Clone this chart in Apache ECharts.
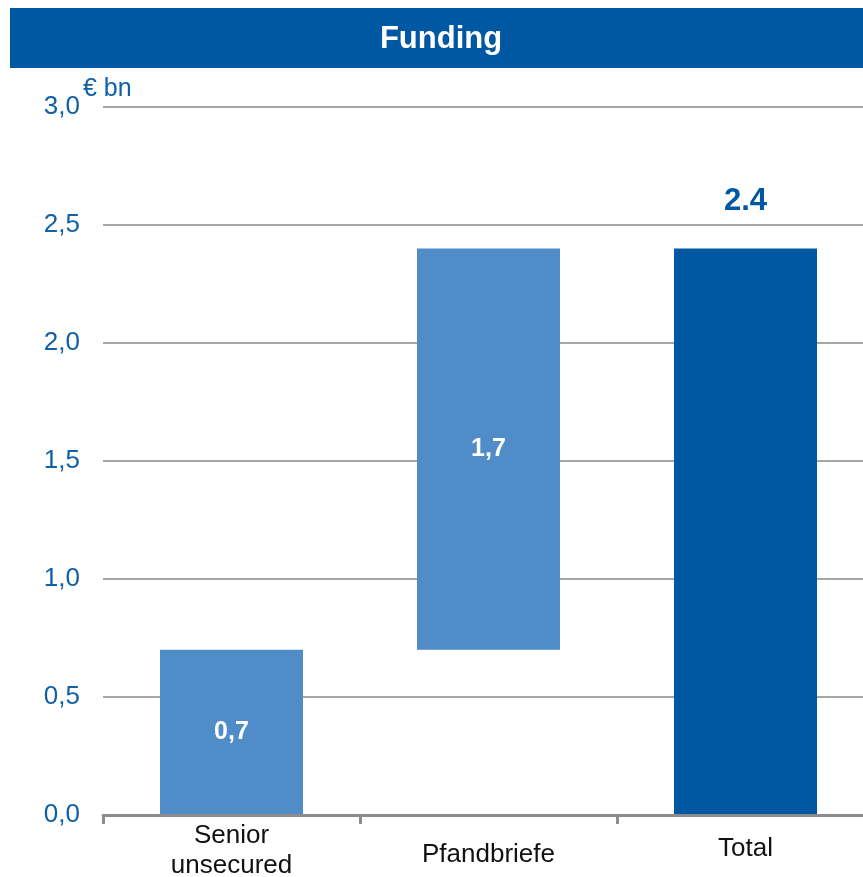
<!DOCTYPE html>
<html>
<head>
<meta charset="utf-8">
<script src="https://cdn.jsdelivr.net/npm/echarts@6/dist/echarts.min.js"></script>
<style>
html,body{margin:0;padding:0;background:#fff;overflow:hidden;}
#chart{width:880px;height:877px;}
</style>
</head>
<body>
<div id="chart"></div>
<script>
// ---- data ----
var categories = ['Senior\nunsecured', 'Pfandbriefe', 'Total'];
var values = [0.7, 1.7, 2.4];
var bases = [0, 0.7, 0];
var valueLabels = ['0,7', '1,7', '2.4'];
var yTicks = [0, 0.5, 1.0, 1.5, 2.0, 2.5, 3.0];
var titleText = 'Funding';
var unitText = '€ bn';

// ---- styles ----
var LIGHT = '#4f8cc8';
var DARK = '#0058a2';
var FONT = '"Liberation Sans", Arial, sans-serif';
var barColors = [LIGHT, LIGHT, DARK];
var labelPad = [[0,0,0,0],[38,0,0,0],[26,0,0,0]];

var chart = echarts.init(document.getElementById('chart'), null, {renderer: 'canvas'});

var valueData = values.map(function (v, i) {
  var isTotal = i === values.length - 1;
  return {
    value: v,
    itemStyle: {color: barColors[i]},
    label: isTotal ? {
      show: true, position: 'top', distance: 32,
      color: DARK, fontSize: 31, fontWeight: 'bold', fontFamily: FONT,
      formatter: valueLabels[i]
    } : {
      show: true, position: 'inside',
      color: '#ffffff', fontSize: 25, fontWeight: 'bold', fontFamily: FONT,
      formatter: valueLabels[i]
    }
  };
});

var option = {
  animation: false,
  backgroundColor: '#ffffff',
  grid: {left: 103, top: 107, width: 771, height: 708, containLabel: false, outerBoundsMode: 'none'},
  graphic: [
    {type: 'rect', shape: {x: 10, y: 8, width: 870, height: 60}, style: {fill: DARK}, z: 0},
    {type: 'text', x: 441, y: 39, style: {text: titleText, fill: '#ffffff', font: 'bold 31px ' + FONT, textAlign: 'center', textVerticalAlign: 'middle'}, z: 1},
    {type: 'text', x: 83, y: 89, style: {text: unitText, fill: '#1060a8', font: '25px ' + FONT, textAlign: 'left', textVerticalAlign: 'middle'}, z: 1}
  ],
  xAxis: {
    type: 'category',
    data: categories,
    axisLine: {show: true, lineStyle: {color: '#8c8c8c', width: 3}},
    axisTick: {show: true, length: 9, lineStyle: {color: '#8c8c8c', width: 3}},
    axisLabel: {
      margin: 6,
      interval: 0,
      formatter: function (val, idx) {
        var k = 'c' + idx;
        return val.split('\n').map(function (s) { return '{' + k + '|' + s + '}'; }).join('\n');
      },
      rich: {
        c0: {fontSize: 26, fontFamily: FONT, color: '#111111', lineHeight: 30, padding: labelPad[0]},
        c1: {fontSize: 26, fontFamily: FONT, color: '#111111', lineHeight: 30, padding: labelPad[1]},
        c2: {fontSize: 26, fontFamily: FONT, color: '#111111', lineHeight: 30, padding: labelPad[2]}
      }
    },
    z: 5
  },
  yAxis: {
    type: 'value',
    min: yTicks[0],
    max: yTicks[yTicks.length - 1],
    interval: 0.5,
    axisLine: {show: false},
    axisTick: {show: false},
    splitLine: {show: true, lineStyle: {color: '#a6a6a6', width: 2}},
    axisLabel: {
      margin: 23,
      color: '#1060a8',
      fontSize: 26,
      fontFamily: FONT,
      formatter: function (v) { return v.toFixed(1).replace('.', ','); }
    }
  },
  series: [
    {
      name: 'base', type: 'bar', stack: 'w', barWidth: 143,
      data: bases,
      itemStyle: {color: 'transparent'},
      emphasis: {disabled: true},
      silent: true
    },
    {
      name: 'value', type: 'bar', stack: 'w', barWidth: 143,
      data: valueData
    }
  ]
};
chart.setOption(option);
</script>
</body>
</html>
